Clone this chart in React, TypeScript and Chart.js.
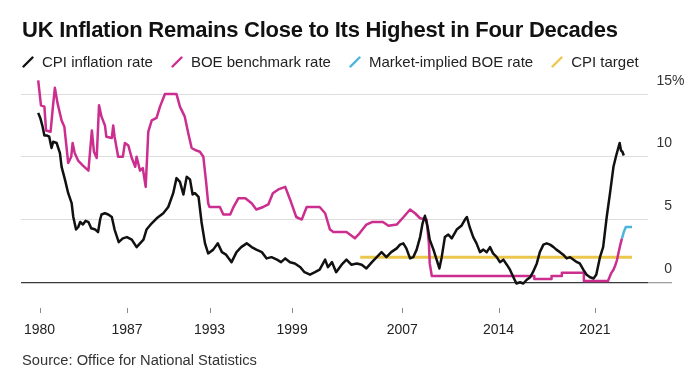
import React, { useEffect, useRef } from "react";
import { Chart, registerables } from "chart.js";

Chart.register(...registerables);

const TITLE = "UK Inflation Remains Close to Its Highest in Four Decades";
const SOURCE = "Source: Office for National Statistics";

const xTickYears = [1980, 1987, 1993, 1999, 2007, 2014, 2021];
const yTickValues = [0, 5, 10, 15];

// [year, percent]
const cpiInflation: [number, number][] = [
  [1980.55, 13.5], [1980.7, 13.1], [1980.87, 12.4], [1981.0, 11.7], [1981.16, 11.7],
  [1981.35, 11.6], [1981.52, 10.7], [1981.64, 11.2], [1981.89, 11.1], [1982.13, 10.3],
  [1982.25, 9.2], [1982.49, 8.2], [1982.73, 7.1], [1982.98, 6.3], [1983.1, 5.2],
  [1983.3, 4.2], [1983.46, 4.4], [1983.6, 4.8], [1983.8, 4.6], [1984.0, 4.9],
  [1984.2, 4.8], [1984.4, 4.3], [1984.7, 4.2], [1984.9, 4.0], [1985.05, 5.0],
  [1985.15, 5.4], [1985.4, 5.5], [1985.64, 5.4], [1985.9, 5.2], [1986.1, 4.2],
  [1986.4, 3.2], [1986.7, 3.5], [1987.0, 3.6], [1987.35, 3.4], [1987.7, 2.8],
  [1987.95, 3.1], [1988.2, 3.4], [1988.42, 4.2], [1988.8, 4.7], [1989.16, 5.1],
  [1989.64, 5.5], [1990.0, 6.0], [1990.36, 7.1], [1990.6, 8.3], [1990.85, 8.0],
  [1991.1, 7.0], [1991.34, 8.4], [1991.58, 8.2], [1991.77, 7.0], [1991.94, 7.1],
  [1992.2, 6.8], [1992.43, 4.7], [1992.67, 3.1], [1992.9, 2.3], [1993.27, 2.6],
  [1993.6, 3.1], [1993.9, 2.4], [1994.2, 2.2], [1994.6, 1.6], [1994.96, 2.4],
  [1995.3, 2.8], [1995.7, 3.1], [1996.06, 2.8], [1996.4, 2.6], [1996.8, 2.4],
  [1997.15, 1.9], [1997.5, 2.0], [1997.9, 1.8], [1998.2, 1.6], [1998.5, 1.9],
  [1998.85, 1.6], [1999.2, 1.5], [1999.6, 1.2], [1999.9, 0.8], [2000.3, 0.6],
  [2000.66, 0.8], [2001.0, 1.0], [2001.4, 1.8], [2001.6, 1.2], [2001.9, 1.6],
  [2002.2, 0.8], [2002.6, 1.4], [2002.95, 1.8], [2003.3, 1.4], [2003.7, 1.5],
  [2004.06, 1.4], [2004.4, 1.1], [2004.8, 1.6], [2005.15, 2.0], [2005.5, 2.4],
  [2005.85, 2.0], [2006.2, 2.4], [2006.6, 2.7], [2006.84, 3.0], [2007.08, 3.1],
  [2007.3, 2.7], [2007.57, 1.9], [2007.8, 2.0], [2008.05, 2.6], [2008.3, 3.6],
  [2008.48, 4.7], [2008.65, 5.3], [2008.85, 4.4], [2009.0, 3.4], [2009.27, 2.6],
  [2009.5, 1.8], [2009.7, 1.1], [2009.87, 2.0], [2010.1, 3.6], [2010.35, 3.8],
  [2010.6, 3.5], [2010.96, 4.2], [2011.3, 4.5], [2011.56, 5.0], [2011.7, 5.2],
  [2011.9, 4.4], [2012.16, 3.6], [2012.4, 3.1], [2012.65, 2.4], [2012.9, 2.6],
  [2013.14, 2.4], [2013.38, 2.8], [2013.6, 2.3], [2013.87, 2.0], [2014.1, 1.6],
  [2014.35, 1.8], [2014.6, 1.4], [2014.83, 1.0], [2015.08, 0.4], [2015.3, -0.1],
  [2015.56, 0.0], [2015.8, -0.1], [2016.05, 0.2], [2016.3, 0.4], [2016.5, 0.8],
  [2016.78, 1.5], [2017.0, 2.4], [2017.26, 3.0], [2017.5, 3.1], [2017.74, 3.0],
  [2018.0, 2.8], [2018.2, 2.6], [2018.46, 2.4], [2018.7, 2.2], [2018.95, 1.9],
  [2019.2, 2.0], [2019.45, 1.8], [2019.7, 1.6], [2019.9, 1.5], [2020.16, 1.0],
  [2020.4, 0.6], [2020.65, 0.4], [2020.9, 0.3], [2021.1, 0.6], [2021.37, 2.0],
  [2021.6, 2.8], [2021.86, 5.2], [2022.1, 7.1], [2022.35, 9.2], [2022.55, 10.1],
  [2022.8, 11.1], [2022.9, 10.5], [2023.0, 10.4], [2023.1, 10.1],
];

const boeRate: [number, number][] = [
  [1980.55, 16.1], [1980.75, 14.1], [1981.0, 14.0], [1981.12, 12.1], [1981.45, 12.0],
  [1981.62, 14.0], [1981.76, 15.5], [1981.95, 14.3], [1982.25, 12.9], [1982.45, 12.4],
  [1982.73, 9.5], [1982.95, 10.0], [1983.05, 11.1], [1983.2, 10.3], [1983.45, 9.7],
  [1983.8, 9.3], [1984.2, 8.9], [1984.45, 12.1], [1984.6, 10.4], [1984.8, 9.9],
  [1984.97, 14.1], [1985.15, 13.2], [1985.4, 12.5], [1985.5, 11.6], [1985.9, 11.5],
  [1986.0, 12.5], [1986.1, 11.6], [1986.36, 10.0], [1986.7, 10.0], [1986.85, 11.1],
  [1987.1, 10.9], [1987.35, 9.9], [1987.6, 9.2], [1987.7, 10.0], [1987.95, 8.9],
  [1988.15, 9.1], [1988.36, 7.6], [1988.55, 12.0], [1988.8, 12.9], [1989.15, 13.1],
  [1989.4, 14.0], [1989.76, 15.0], [1990.6, 15.0], [1990.85, 14.0], [1991.2, 13.2],
  [1991.45, 11.9], [1991.7, 10.7], [1992.05, 10.5], [1992.3, 10.4], [1992.55, 10.0],
  [1992.75, 8.0], [1992.9, 6.3], [1993.0, 6.0], [1993.75, 6.0], [1994.0, 5.4],
  [1994.5, 5.4], [1994.7, 5.9], [1995.1, 6.7], [1995.6, 6.7], [1996.06, 6.3],
  [1996.4, 5.8], [1996.9, 6.0], [1997.27, 6.2], [1997.6, 7.1], [1998.0, 7.4],
  [1998.5, 7.6], [1998.85, 6.6], [1999.3, 5.2], [1999.7, 5.0], [2000.06, 6.0],
  [2001.0, 6.0], [2001.4, 5.5], [2001.75, 4.2], [2002.0, 4.0], [2002.95, 4.0],
  [2003.2, 3.8], [2003.56, 3.5], [2003.9, 3.9], [2004.4, 4.6], [2004.8, 4.8],
  [2005.6, 4.8], [2006.0, 4.5], [2006.6, 4.6], [2007.1, 5.2], [2007.57, 5.8],
  [2007.93, 5.5], [2008.3, 5.1], [2008.77, 5.0], [2008.94, 3.1], [2009.0, 1.5],
  [2009.15, 0.5], [2016.6, 0.5], [2016.6, 0.25], [2017.85, 0.25], [2017.85, 0.5],
  [2018.6, 0.5], [2018.6, 0.75], [2020.2, 0.75], [2020.2, 0.1], [2021.95, 0.1],
  [2022.1, 0.5], [2022.2, 0.75], [2022.35, 1.0], [2022.45, 1.25], [2022.6, 1.75],
  [2022.7, 2.25], [2022.85, 3.0], [2022.97, 3.5],
];

const marketImpliedRate: [number, number][] = [
  [2022.97, 3.5], [2023.1, 4.0], [2023.25, 4.4], [2023.7, 4.4],
];

const cpiTarget: [number, number][] = [
  [2003.95, 2.0], [2023.7, 2.0],
];

const seriesLabels = ["CPI inflation rate", "BOE benchmark rate", "Market-implied BOE rate", "CPI target"];
const seriesColors = ["#111111", "#cc2e8f", "#4db5dc", "#ebc84c"];

const FONT = "'Liberation Sans', Arial, Helvetica, sans-serif";

const axisDecor = {
  id: "axisDecor",
  afterDraw(chart: any) {
    const { ctx, chartArea, scales } = chart;
    const xs = scales.x;
    const ys = scales.y;
    ctx.save();
    ctx.strokeStyle = "#8a8a8a";
    ctx.lineWidth = 1;
    xs.ticks.forEach((t: any) => {
      const px = Math.round(xs.getPixelForValue(t.value)) + 0.5;
      ctx.beginPath();
      ctx.moveTo(px, chartArea.bottom + 22);
      ctx.lineTo(px, chartArea.bottom + 27);
      ctx.stroke();
    });
    ctx.font = `14px ${FONT}`;
    ctx.fillStyle = "#333333";
    ctx.textBaseline = "alphabetic";
    const top = Math.max(...yTickValues);
    ys.ticks.forEach((t: any) => {
      const py = ys.getPixelForValue(t.value) - 9.5;
      ctx.textAlign = "right";
      ctx.fillText(String(t.value), 672, py);
      if (t.value === top) {
        ctx.textAlign = "left";
        ctx.fillText("%", 672, py);
      }
    });
    ctx.restore();
  },
};

function toPoints(arr: [number, number][]) {
  return arr.map(([x, y]) => ({ x, y }));
}

function Slash({ color }: { color: string }) {
  return (
    <svg width="12" height="12" style={{ display: "block", marginRight: 8 }}>
      <line x1="1.5" y1="10.5" x2="10.5" y2="1.5" stroke={color} strokeWidth="2.4" strokeLinecap="round" />
    </svg>
  );
}

export default function App() {
  const canvasRef = useRef<HTMLCanvasElement | null>(null);

  useEffect(() => {
    if (!canvasRef.current) return;
    const firstYear = cpiInflation[0][0];
    const chart = new Chart(canvasRef.current, {
      type: "line",
      data: {
        datasets: [
          { label: seriesLabels[0], data: toPoints(cpiInflation), borderColor: seriesColors[0], borderWidth: 2.5, order: 0 },
          { label: seriesLabels[1], data: toPoints(boeRate), borderColor: seriesColors[1], borderWidth: 2.5, order: 2 },
          { label: seriesLabels[2], data: toPoints(marketImpliedRate), borderColor: seriesColors[2], borderWidth: 2.5, order: 1 },
          { label: seriesLabels[3], data: toPoints(cpiTarget), borderColor: seriesColors[3], borderWidth: 3, order: 3 },
        ] as any,
      },
      options: {
        animation: false,
        responsive: false,
        events: [],
        layout: { padding: { left: 21, top: 74, right: 0, bottom: 0 } },
        elements: {
          point: { radius: 0 },
          line: { tension: 0, borderJoinStyle: "round", borderCapStyle: "butt", fill: false },
        },
        plugins: {
          legend: { display: false },
          title: { display: false },
          tooltip: { enabled: false },
        },
        scales: {
          x: {
            type: "linear",
            position: "bottom",
            min: 1979.3,
            max: 2024.86,
            afterBuildTicks: (scale: any) => {
              scale.ticks = xTickYears.map((yr) => ({ value: Math.max(yr, firstYear + 0.1) }));
            },
            afterFit: (scale: any) => {
              scale.height = 94;
              scale.paddingLeft = 0;
              scale.paddingRight = 0;
            },
            ticks: {
              autoSkip: false,
              maxRotation: 0,
              padding: 36,
              color: "#222222",
              font: { size: 14, family: FONT },
              callback: (_v: any, i: number) => String(xTickYears[i]),
            },
            grid: { display: false, drawTicks: false },
            border: { display: false },
          },
          y: {
            type: "linear",
            position: "right",
            min: -0.3,
            max: 16.6,
            afterBuildTicks: (scale: any) => {
              scale.ticks = yTickValues.map((v) => ({ value: v }));
            },
            afterFit: (scale: any) => {
              scale.width = 52;
              scale.paddingTop = 0;
              scale.paddingBottom = 0;
            },
            ticks: { display: false },
            grid: {
              color: (c: any) => (c.tick && c.tick.value === 0 ? "#3a3a3a" : "#dddddd"),
              lineWidth: (c: any) => (c.tick && c.tick.value === 0 ? 1.3 : 1),
              drawTicks: true,
              tickLength: 24,
              tickColor: (c: any) => (c.tick && c.tick.value === 0 ? "#a0a0a0" : "rgba(0,0,0,0)"),
            },
            border: { display: false },
          },
        },
      } as any,
      plugins: [axisDecor],
    });
    return () => chart.destroy();
  }, []);

  return (
    <div style={{ position: "absolute", left: 0, top: 0, width: 700, height: 380, background: "#ffffff", overflow: "hidden", fontFamily: FONT }}>
      <canvas ref={canvasRef} width={700} height={380} style={{ position: "absolute", left: 0, top: 0, display: "block" }} />
      <div style={{ position: "absolute", left: 22, top: 18.7, fontSize: 22, lineHeight: "22px", fontWeight: 700, color: "#111111", whiteSpace: "nowrap", letterSpacing: -0.25 }}>
        {TITLE}
      </div>
      <div style={{ position: "absolute", left: 22, top: 54, display: "flex", alignItems: "center", fontSize: 15, lineHeight: "15px", color: "#222222", whiteSpace: "nowrap" }}>
        {seriesLabels.map((lab, i) => (
          <div key={lab} style={{ display: "flex", alignItems: "center", marginRight: i < seriesLabels.length - 1 ? 18 : 0 }}>
            <Slash color={seriesColors[i]} />
            <span>{lab}</span>
          </div>
        ))}
      </div>
      <div style={{ position: "absolute", left: 22, top: 353, fontSize: 14.7, lineHeight: "14.7px", color: "#333333", whiteSpace: "nowrap" }}>
        {SOURCE}
      </div>
    </div>
  );
}
